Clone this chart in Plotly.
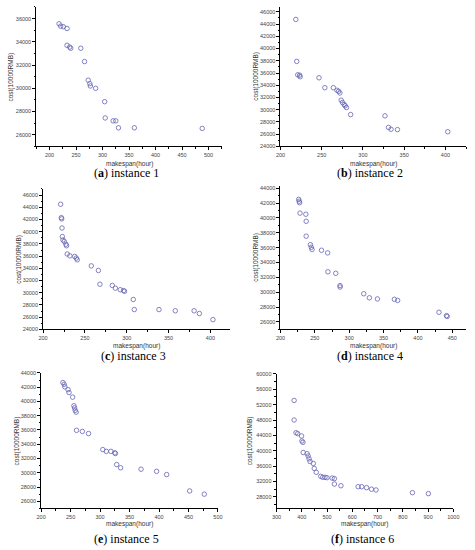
import plotly.graph_objects as go

# values
a_makespan = [218, 221, 226, 233, 233, 238, 240, 259, 266, 273, 276, 277, 287, 304, 305, 320, 325, 330, 360, 488]
a_cost = [35550, 35350, 35300, 35150, 33700, 33550, 33450, 33450, 32300, 30700, 30400, 30200, 30000,
          28850, 27450, 27200, 27200, 26600, 26600, 26550]

b_makespan = [218.6, 219.7, 220.9, 223.2, 223.8, 246.7, 253.8, 264.1, 268.5, 270.5, 272, 273.6, 275.2,
              277.2, 278.4, 280, 285.1, 326.7, 331, 334, 341.8, 402.8]
b_cost = [44760, 37900, 35700, 35650, 35400, 35220, 33600, 33600, 33180, 33010, 32740, 31560, 31170,
          30850, 30640, 30360, 29200, 29000, 27100, 26800, 26750, 26400]

c_makespan = [221, 221.8, 222.2, 222.6, 223, 223.8, 225.3, 227.3, 228, 228.8, 232, 237.8, 239.7, 240.8,
              257.6, 266.1, 267.9, 282.7, 286.4, 292.2, 296.1, 297.3, 307.8, 309, 338.5, 358, 380.5,
              386.8, 403]
c_cost = [44500, 42300, 42100, 40600, 39200, 38650, 38400, 37950, 37700, 36350, 36050, 35950, 35680,
          35400, 34400, 33650, 31400, 31200, 30750, 30500, 30350, 30250, 28900, 27250, 27250, 27050,
          27050, 26600, 25600]

d_makespan = [226.5, 227.2, 227.8, 228.4, 236.9, 237.4, 237.4, 243.5, 244.9, 245.9, 259.7, 268.6, 269,
              280.4, 286.6, 286.8, 321.2, 329.3, 341, 365.7, 370.5, 430.6, 441.5, 442.5]
d_cost = [42500, 42250, 42050, 40650, 40500, 39550, 37550, 36400, 36050, 35750, 35650, 35300, 32750,
          32550, 30900, 30700, 29800, 29250, 29100, 29050, 28900, 27300, 26850, 26750]

e_makespan = [236.9, 239.1, 240.2, 245.7, 247.3, 253.4, 255.6, 256.7, 257.8, 259.4, 260, 269.9, 280.4,
              304.6, 310.6, 318.3, 324.9, 326, 328.2, 334.8, 369.5, 395.9, 413, 452, 476.8]
e_cost = [42650, 42400, 42050, 41650, 41250, 40600, 39400, 39100, 38750, 38500, 35950, 35800, 35500,
          33250, 33000, 33000, 32800, 32700, 31150, 30700, 30500, 30200, 29750, 27450, 27000]

f_makespan = [369.5, 369.5, 377.2, 383.7, 399, 400.4, 404.2, 405.5, 421, 425, 428.8, 432.6, 445.5, 449.3,
              457, 475, 482.8, 491.8, 499.5, 520, 529, 529, 554.8, 623, 637.1, 656.4, 675.7, 693.7,
              837.9, 901]
f_cost = [53100, 48000, 44700, 44450, 43850, 42550, 42200, 39550, 39250, 38650, 37900, 37200, 36700,
          35400, 34400, 33350, 33100, 33100, 33000, 32900, 32750, 31350, 30900, 30650, 30650, 30400,
          30000, 29800, 29100, 28850]

captions = ["a", "b", "c", "d", "e", "f"]
W, H = 475, 550

# pixel boxes of the plot areas: left, right, top, bottom
panels = [
    dict(x=a_makespan, y=a_cost, box=(32, 222, 4, 145), xr=[175, 525], xd=50, yr=[25000, 37000], yd=2000,
         ytx=6, cap_y=172, xt_y=163),
    dict(x=b_makespan, y=b_cost, box=(282, 472, 4, 145), xr=[200, 425], xd=50, yr=[24000, 46800], yd=2000,
         ytx=257, cap_y=172, xt_y=163),
    dict(x=c_makespan, y=c_cost, box=(39, 230, 188, 330), xr=[200, 423], xd=50, yr=[24000, 47000], yd=2000,
         ytx=15, cap_y=357, xt_y=347),
    dict(x=d_makespan, y=d_cost, box=(282, 472, 185, 330), xr=[200, 470], xd=50, yr=[25000, 44300], yd=2000,
         ytx=257, cap_y=357, xt_y=347),
    dict(x=e_makespan, y=e_cost, box=(37, 218, 374, 511), xr=[200, 500], xd=50, yr=[25000, 44000], yd=2000,
         ytx=12, cap_y=542, xt_y=527),
    dict(x=f_makespan, y=f_cost, box=(278, 459, 375, 511), xr=[300, 1000], xd=100, yr=[25000, 60000], yd=4000,
         ytx=251, cap_y=542, xt_y=527),
]

fig = go.Figure()
annotations = []
tickfont = dict(family="Arial", size=5.5, color="#444")
small = dict(family="Arial", size=6.5, color="#333")

for i, p in enumerate(panels):
    n = "" if i == 0 else str(i + 1)
    l, r, t, b = p["box"]
    fig.add_trace(go.Scatter(x=p["x"], y=p["y"], mode="markers", xaxis="x" + n, yaxis="y" + n,
                             marker=dict(symbol="circle-open", size=4.5, color="#6464b4",
                                         line=dict(width=0.8, color="#6464b4")),
                             showlegend=False))
    axis_common = dict(showgrid=False, zeroline=False, showline=True, linecolor="black", linewidth=1,
                       ticks="outside", ticklen=3, tickcolor="black", tickfont=tickfont, tickformat="d")
    fig.update_layout({
        "xaxis" + n: dict(axis_common, domain=[l / W, r / W], range=p["xr"], dtick=p["xd"],
                          anchor="y" + n, minor=dict(ticks="outside", ticklen=1.5, dtick=p["xd"] / 2,
                                                     tickcolor="black")),
        "yaxis" + n: dict(axis_common, domain=[1 - b / H, 1 - t / H], range=p["yr"], dtick=p["yd"],
                          anchor="x" + n, minor=dict(ticks="outside", ticklen=1.5, dtick=p["yd"] / 2,
                                                     tickcolor="black")),
    })
    cx = (l + r) / 2
    annotations.append(dict(text="makespan(hour)", x=cx / W, y=1 - p["xt_y"] / H, font=small))
    annotations.append(dict(text="cost(10000RMB)", x=p["ytx"] / W, y=1 - (t + b) / 2 / H,
                            textangle=-90, font=small))
    annotations.append(dict(text="(<b>%s</b>) instance %d" % (captions[i], i + 1), x=(cx - 3) / W,
                            y=1 - p["cap_y"] / H,
                            font=dict(family="Liberation Serif", size=12, color="black")))

for ann in annotations:
    ann.update(xref="paper", yref="paper", showarrow=False, xanchor="center", yanchor="middle")

fig.update_layout(width=W, height=H, margin=dict(l=0, r=0, t=0, b=0), plot_bgcolor="white",
                  paper_bgcolor="white", annotations=annotations)

# the page's default body margin would push the figure 8px down and right
fig.write_html("out.html", config={"displayModeBar": False},
               post_script="document.body.style.margin = '0';")
